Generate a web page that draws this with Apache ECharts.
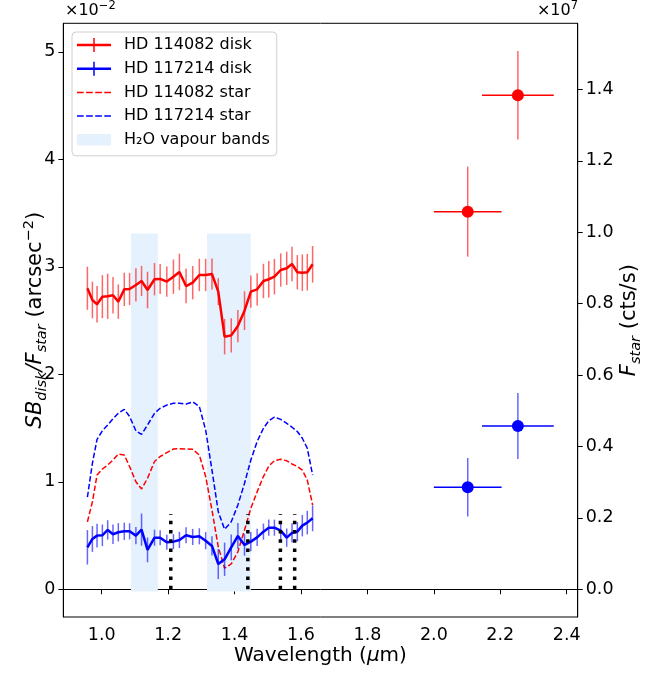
<!DOCTYPE html>
<html><head><meta charset="utf-8">
<script src="https://cdn.jsdelivr.net/npm/echarts@6/dist/echarts.min.js"></script>
<style>html,body{margin:0;padding:0;background:#fff}#c{width:656px;height:673px}</style>
</head><body><div id="c"></div>
<script>
// ---- data ----
const wavelengths = [0.957,0.972,0.986,1.002,1.018,1.034,1.050,1.068,1.084,1.103,1.120,1.138,1.159,1.176,1.196,1.216,1.234,1.254,1.274,1.294,1.313,1.332,1.351,1.370,1.390,1.410,1.430,1.449,1.468,1.487,1.503,1.520,1.539,1.557,1.573,1.589,1.604,1.619,1.635];
const sb114082 = [2.800,2.691,2.651,2.722,2.725,2.735,2.676,2.790,2.793,2.831,2.868,2.784,2.884,2.887,2.862,2.908,2.952,2.821,2.852,2.924,2.924,2.933,2.769,2.350,2.362,2.449,2.592,2.769,2.790,2.868,2.884,2.908,2.970,2.986,3.026,2.949,2.945,2.949,3.023];
const sbErr114082 = [0.20,0.17,0.17,0.20,0.21,0.17,0.16,0.155,0.15,0.155,0.14,0.17,0.15,0.14,0.14,0.16,0.17,0.16,0.155,0.15,0.15,0.145,0.125,0.165,0.16,0.15,0.18,0.15,0.15,0.16,0.17,0.165,0.155,0.155,0.16,0.16,0.17,0.17,0.17];
const sb117214 = [0.390,0.468,0.499,0.502,0.552,0.512,0.530,0.539,0.539,0.499,0.555,0.366,0.480,0.480,0.437,0.443,0.459,0.502,0.487,0.493,0.452,0.403,0.235,0.279,0.390,0.496,0.412,0.443,0.483,0.536,0.573,0.573,0.545,0.480,0.524,0.536,0.592,0.620,0.660];
const sbErr117214 = [0.16,0.12,0.11,0.10,0.09,0.09,0.085,0.08,0.075,0.08,0.15,0.115,0.075,0.07,0.07,0.07,0.075,0.075,0.075,0.075,0.08,0.09,0.14,0.155,0.12,0.12,0.10,0.09,0.08,0.075,0.075,0.075,0.08,0.085,0.09,0.09,0.10,0.11,0.12];
const star114082 = [0.189,0.245,0.320,0.337,0.348,0.362,0.379,0.376,0.344,0.301,0.281,0.311,0.358,0.372,0.383,0.393,0.394,0.393,0.392,0.376,0.316,0.222,0.119,0.059,0.071,0.105,0.166,0.227,0.273,0.316,0.345,0.360,0.364,0.360,0.351,0.344,0.334,0.306,0.236];
const star117214 = [0.258,0.353,0.420,0.444,0.460,0.478,0.493,0.504,0.484,0.444,0.434,0.460,0.493,0.507,0.516,0.521,0.521,0.519,0.525,0.512,0.446,0.334,0.217,0.168,0.189,0.236,0.297,0.362,0.414,0.451,0.472,0.482,0.476,0.465,0.454,0.442,0.423,0.395,0.320];
const kWavelengths = [2.102, 2.253];
const kWaveErr = [0.102, 0.108];
const kSb114082 = [3.513, 4.595];
const kSbErr114082 = [0.419, 0.412];
const kSb117214 = [0.949, 1.519];
const kSbErr117214 = [0.272, 0.307];
const bandStart = [1.088, 1.317];
const bandEnd = [1.169, 1.449];
const bandLow = [-0.02, -0.02];
const bandHigh = [3.31, 3.31];
const dottedLines = [1.208, 1.440, 1.538, 1.581];
const dottedTop = [0.70, 0.70, 0.70, 0.70];
const xTicks = [1.0, 1.2, 1.4, 1.6, 1.8, 2.0, 2.2, 2.4];
const leftTicks = [0, 1, 2, 3, 4, 5];
const rightTicks = [0, 0.2, 0.4, 0.6, 0.8, 1.0, 1.2, 1.4];
const legendNames = ['HD 114082 disk', 'HD 117214 disk', 'HD 114082 star', 'HD 117214 star', 'H\u2082O vapour bands'];

// ---- styles ----
const RED = '#ff0000', BLUE = '#0000ff', BAND = '#e5f2fe';
const FONT = '"DejaVu Sans", sans-serif';
const TICK_FS = 17.5;
const diskIcon = 'path://M0,0L0.01,0M42,14L42.01,14M0,5.75H34V8.25H0ZM16.25,0H17.75V14H16.25Z';
const starIcon = 'path://M0,0L0.01,0M42,14L42.01,14M0,6.25H6.7V7.75H0ZM9.1,6.25H15.8V7.75H9.1ZM18.2,6.25H24.9V7.75H18.2ZM27.3,6.25H34V7.75H27.3Z';
const bandIcon = 'path://M0,0L0.01,0M42,14L42.01,14M0,1.2H34V12.8H0Z';

function errRender(color) {
  return function (params, api) {
    const x = api.value(0), y = api.value(1), e = api.value(2);
    const a = api.coord([x, y - e]), b = api.coord([x, y + e]);
    return {type: 'line', shape: {x1: a[0], y1: a[1], x2: b[0], y2: b[1]},
      style: {stroke: color, lineWidth: 1.5, opacity: 0.6}};
  };
}
function kErrRender(color) {
  return function (params, api) {
    const x = api.value(0), y = api.value(1), ex = api.value(2), ey = api.value(3);
    const h0 = api.coord([x - ex, y]), h1 = api.coord([x + ex, y]);
    const v0 = api.coord([x, y - ey]), v1 = api.coord([x, y + ey]);
    return {type: 'group', children: [
      {type: 'line', shape: {x1: h0[0], y1: h0[1], x2: h1[0], y2: h1[1]}, style: {stroke: color, lineWidth: 1.5}},
      {type: 'line', shape: {x1: v0[0], y1: v0[1], x2: v1[0], y2: v1[1]}, style: {stroke: color, lineWidth: 1.5, opacity: 0.6}}
    ]};
  };
}

const chart = echarts.init(document.getElementById('c'), null, {renderer: 'canvas'});
const axisCommon = {
  axisLine: {show: true, lineStyle: {color: '#000', width: 1}},
  splitLine: {show: false},
  nameMoveOverlap: false
};
const offsetRich = {
  b: {fontFamily: FONT, fontSize: 16, color: '#000', lineHeight: 22},
  s: {fontFamily: FONT, fontSize: 11.5, color: '#000', verticalAlign: 'top'}
};
chart.setOption({
  animation: false,
  backgroundColor: '#fff',
  textStyle: {fontFamily: FONT},
  grid: {left: 63.3, right: 78.3, top: 23.3, bottom: 56, show: true, borderColor: '#000', borderWidth: 1, outerBoundsMode: 'none', containLabel: false},
  legend: {
    orient: 'vertical', left: 72, top: 32,
    padding: [5, 7, 8, 5], itemGap: 7.7, itemWidth: 42, itemHeight: 14,
    backgroundColor: 'rgba(255,255,255,0.8)', borderColor: '#d0d0d0', borderWidth: 1, borderRadius: 4,
    textStyle: {fontFamily: FONT, fontSize: 16, color: '#000'},
    itemStyle: {borderWidth: 0},
    data: [
      {name: legendNames[0], icon: diskIcon, itemStyle: {color: RED, borderWidth: 0}},
      {name: legendNames[1], icon: diskIcon, itemStyle: {color: BLUE, borderWidth: 0}},
      {name: legendNames[2], icon: starIcon, itemStyle: {color: RED, borderWidth: 0}},
      {name: legendNames[3], icon: starIcon, itemStyle: {color: BLUE, borderWidth: 0}},
      {name: legendNames[4], icon: bandIcon, itemStyle: {color: BAND, borderWidth: 0}}
    ]
  },
  graphic: [
    {type: 'text', left: 65, top: 0, style: {text: '{b|\u00d710}{s|\u22122}', rich: offsetRich}},
    {type: 'text', right: 78, top: 0, style: {text: '{b|\u00d710}{s|7}', rich: offsetRich}}
  ],
  xAxis: Object.assign({
    type: 'value', min: 0.8844, max: 2.4331,
    axisTick: {show: true, length: 5, customValues: xTicks, lineStyle: {color: '#000'}},
    axisLabel: {customValues: xTicks, formatter: v => v.toFixed(1), fontSize: TICK_FS, color: '#000', margin: 9, fontFamily: FONT},
    name: '{n|Wavelength (}{i|\u03bc}{n|m)}', nameLocation: 'middle', nameGap: 29,
    nameTextStyle: {fontFamily: FONT, fontSize: 20, color: '#000', rich: {
      n: {fontFamily: FONT, fontSize: 20, color: '#000'},
      i: {fontFamily: FONT, fontSize: 20, color: '#000', fontStyle: 'italic'}}}
  }, axisCommon),
  yAxis: [
    Object.assign({
      type: 'value', min: -0.258, max: 5.265, position: 'left',
      axisTick: {show: true, length: 5, customValues: leftTicks, lineStyle: {color: '#000'}},
      axisLabel: {customValues: leftTicks, formatter: v => String(Math.round(v)), fontSize: TICK_FS, color: '#000', margin: 8, fontFamily: FONT},
      name: '{i|SB}{sub|disk}{i|/F}{sub|star}{n| (arcsec}{sup|\u22122}{n|)}', nameLocation: 'middle', nameGap: 14,
      nameTextStyle: {fontFamily: FONT, fontSize: 21, color: '#000', rich: {
        n: {fontFamily: FONT, fontSize: 21, color: '#000', lineHeight: 28},
        i: {fontFamily: FONT, fontSize: 21, color: '#000', fontStyle: 'italic', lineHeight: 28},
        sub: {fontFamily: FONT, fontSize: 14.5, color: '#000', fontStyle: 'italic', verticalAlign: 'bottom'},
        sup: {fontFamily: FONT, fontSize: 14.5, color: '#000', verticalAlign: 'top'}}}
    }, axisCommon),
    Object.assign({
      type: 'value', min: -0.0776, max: 1.5854, position: 'right',
      axisTick: {show: true, length: 5, customValues: rightTicks, lineStyle: {color: '#000'}},
      axisLabel: {customValues: rightTicks, formatter: v => v.toFixed(1), fontSize: TICK_FS, color: '#000', margin: 8, fontFamily: FONT},
      name: '{i|F}{sub|star}{n| (cts/s)}', nameLocation: 'middle', nameGap: 38,
      nameTextStyle: {fontFamily: FONT, fontSize: 21, color: '#000', rich: {
        n: {fontFamily: FONT, fontSize: 21, color: '#000', lineHeight: 28},
        i: {fontFamily: FONT, fontSize: 21, color: '#000', fontStyle: 'italic', lineHeight: 28},
        sub: {fontFamily: FONT, fontSize: 14.5, color: '#000', fontStyle: 'italic', verticalAlign: 'bottom'}}}
    }, axisCommon)
  ],
  series: [
    {
      type: 'custom', name: legendNames[4], xAxisIndex: 0, yAxisIndex: 0, z: 1, silent: true,
      itemStyle: {color: BAND},
      data: bandStart.map((s, i) => [s, bandEnd[i], bandLow[i], bandHigh[i]]),
      encode: {x: [0, 1], y: [2, 3]},
      renderItem: function (params, api) {
        const p0 = api.coord([api.value(0), api.value(3)]);
        const p1 = api.coord([api.value(1), api.value(2)]);
        return {type: 'rect', shape: {x: p0[0], y: p0[1], width: p1[0] - p0[0], height: p1[1] - p0[1]}, style: {fill: BAND}};
      }
    },
    {
      type: 'line', name: legendNames[2], yAxisIndex: 1, z: 2, symbol: 'none', showSymbol: false,
      itemStyle: {color: RED}, lineStyle: {color: RED, width: 1.5, type: [5.5, 2.4]},
      data: wavelengths.map((w, i) => [w, star114082[i]])
    },
    {
      type: 'line', name: legendNames[3], yAxisIndex: 1, z: 2, symbol: 'none', showSymbol: false,
      itemStyle: {color: BLUE}, lineStyle: {color: BLUE, width: 1.5, type: [5.5, 2.4]},
      data: wavelengths.map((w, i) => [w, star117214[i]])
    },
    {
      type: 'custom', name: legendNames[0], yAxisIndex: 0, z: 3, itemStyle: {color: RED},
      data: wavelengths.map((w, i) => [w, sb114082[i], sbErr114082[i]]),
      encode: {x: 0, y: 1}, renderItem: errRender(RED)
    },
    {
      type: 'custom', name: legendNames[1], yAxisIndex: 0, z: 3, itemStyle: {color: BLUE},
      data: wavelengths.map((w, i) => [w, sb117214[i], sbErr117214[i]]),
      encode: {x: 0, y: 1}, renderItem: errRender(BLUE)
    },
    {
      type: 'line', name: legendNames[0], yAxisIndex: 0, z: 4, symbol: 'none', showSymbol: false,
      itemStyle: {color: RED}, lineStyle: {color: RED, width: 2.5},
      data: wavelengths.map((w, i) => [w, sb114082[i]])
    },
    {
      type: 'line', name: legendNames[1], yAxisIndex: 0, z: 4, symbol: 'none', showSymbol: false,
      itemStyle: {color: BLUE}, lineStyle: {color: BLUE, width: 2.5},
      data: wavelengths.map((w, i) => [w, sb117214[i]])
    },
    {
      type: 'custom', name: 'dotted', yAxisIndex: 0, z: 5,
      data: dottedLines.map((w, i) => [w, dottedTop[i]]),
      encode: {x: 0, y: 1},
      renderItem: function (params, api) {
        const a = api.coord([api.value(0), 0]), b = api.coord([api.value(0), api.value(1)]);
        return {type: 'line', shape: {x1: a[0], y1: a[1], x2: b[0], y2: b[1]},
          style: {stroke: '#000', lineWidth: 3.5, lineDash: [3.5, 5.8], lineCap: 'butt'}};
      }
    },
    {
      type: 'custom', name: 'K 114082 err', yAxisIndex: 0, z: 6,
      data: kWavelengths.map((w, i) => [w, kSb114082[i], kWaveErr[i], kSbErr114082[i]]),
      encode: {x: 0, y: 1}, renderItem: kErrRender(RED)
    },
    {
      type: 'custom', name: 'K 117214 err', yAxisIndex: 0, z: 6,
      data: kWavelengths.map((w, i) => [w, kSb117214[i], kWaveErr[i], kSbErr117214[i]]),
      encode: {x: 0, y: 1}, renderItem: kErrRender(BLUE)
    },
    {
      type: 'scatter', name: 'K 114082', yAxisIndex: 0, z: 7, symbolSize: 12,
      itemStyle: {color: RED, opacity: 1},
      data: kWavelengths.map((w, i) => [w, kSb114082[i]])
    },
    {
      type: 'scatter', name: 'K 117214', yAxisIndex: 0, z: 7, symbolSize: 12,
      itemStyle: {color: BLUE, opacity: 1},
      data: kWavelengths.map((w, i) => [w, kSb117214[i]])
    }
  ]
});
</script></body></html>
